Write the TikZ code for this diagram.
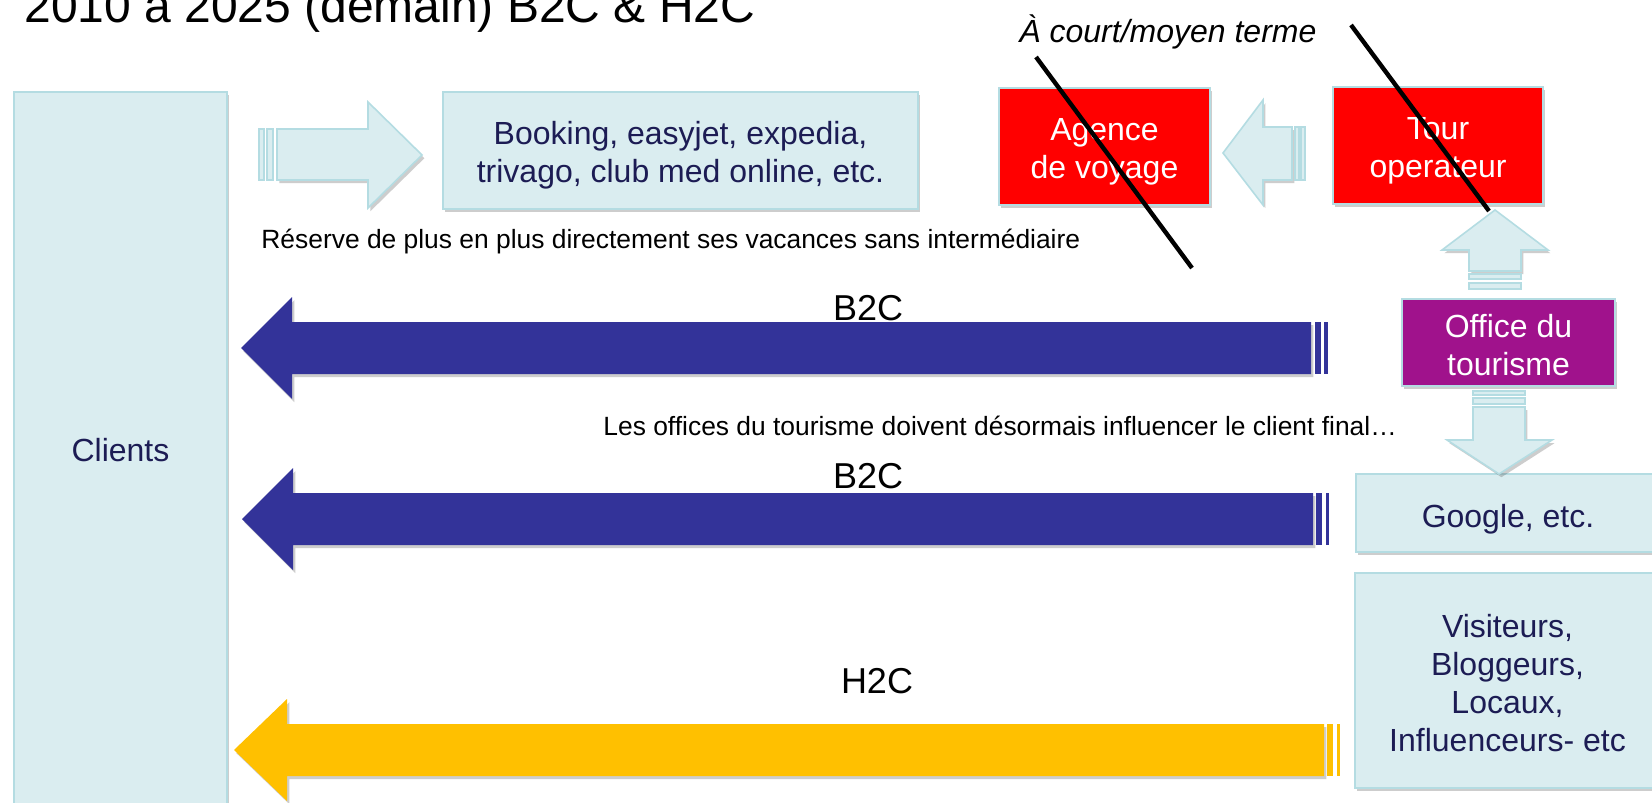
\documentclass[tikz,border=0pt]{standalone}
\usepackage{fontspec}
\setmainfont{Liberation Sans}
\usetikzlibrary{shadows}
\definecolor{lightfill}{RGB}{218,237,240}
\definecolor{lightedge}{RGB}{180,220,226}
\definecolor{navytext}{RGB}{28,28,84}
\definecolor{arrowblue}{RGB}{51,51,153}
\definecolor{arrowgold}{RGB}{255,192,0}
\definecolor{officepurple}{RGB}{160,18,140}
\definecolor{redbox}{RGB}{255,0,0}
\begin{document}
\begin{tikzpicture}[x=0.5pt,y=-0.5pt,
  softshadow/.style={drop shadow={shadow xshift=1.2pt,shadow yshift=-1.6pt,opacity=0.28,fill=black!70}},
  boxbase/.style={rectangle, inner sep=0pt, line width=1pt, draw=lightedge, softshadow},
  lightbox/.style={boxbase, fill=lightfill},
  rednode/.style={boxbase, fill=redbox},
  purplenode/.style={boxbase, fill=officepurple},
  boxtext/.style={font=\fontsize{16}{19}\selectfont, align=center, inner sep=0pt},
  darktext/.style={boxtext, text=navytext},
  whitetext/.style={boxtext, text=white},
  lightarrow/.style={fill=lightfill, draw=lightedge, line width=0.8pt, softshadow},
  lightstripe/.style={fill=lightfill, draw=lightedge, line width=0.6pt},
  bluearrow/.style={fill=arrowblue, softshadow},
  goldarrow/.style={fill=arrowgold, softshadow},
  strike/.style={draw=black, line width=2.2pt},
  smalltext/.style={font=\fontsize{13.2}{15}\selectfont, anchor=base west, inner sep=0pt},
  flowlabel/.style={font=\fontsize{18}{21}\selectfont, anchor=base, inner sep=0pt}
]
\fill[white] (0,0) rectangle (1652,802);
\useasboundingbox (0,0) rectangle (1652,802);

% title
\node[font=\fontsize{24}{28}\selectfont, anchor=base west, inner sep=0pt] (title) at (24,23) {2010 à 2025 (demain) B2C \& H2C};
\node[font=\fontsize{16}{19}\selectfont\itshape, anchor=base west, inner sep=0pt] (terme) at (1019,43) {À court/moyen terme};

% boxes
\node[lightbox, minimum width=106.5pt, minimum height=360pt] (clients) at (120.5,452) {};
\node[lightbox, minimum width=237.5pt, minimum height=58.5pt] (booking) at (680.5,150.5) {};
\node[rednode, minimum width=105.5pt, minimum height=58.5pt] (agence) at (1104.5,146.5) {};
\node[rednode, minimum width=105pt, minimum height=58.5pt] (tour) at (1438,145.5) {};
\node[purplenode, minimum width=106.5pt, minimum height=43.5pt] (office) at (1508.5,342.5) {};
\node[lightbox, minimum width=152pt, minimum height=39pt] (google) at (1508,513) {};
\node[lightbox, minimum width=152.5pt, minimum height=107.5pt] (visiteurs) at (1507.5,680.5) {};

% box texts
\node[darktext] (clientstext) at ([yshift=1pt]clients.center) {Clients};
\node[darktext] (bookingtext) at ([yshift=-2.6pt]booking.center) {Booking, easyjet, expedia,\\trivago, club med online, etc.};
\node[whitetext] (agencetext) at ([yshift=-2.6pt]agence.center) {Agence\\de voyage};
\node[whitetext] (tourtext) at ([yshift=-2.6pt]tour.center) {Tour\\operateur};
\node[whitetext] (officetext) at ([yshift=-1.5pt]office.center) {Office du\\tourisme};
\node[darktext] (googletext) at ([yshift=-3pt]google.center) {Google, etc.};
\node[darktext] (visiteurstext) at ([yshift=-1.3pt]visiteurs.center) {Visiteurs,\\Bloggeurs,\\Locaux,\\Influenceurs- etc};

% light block arrows
\path[lightarrow] (277,129) -- (368,129) -- (368,102) -- (422,155) -- (368,208) -- (368,180) -- (277,180) -- cycle;
\path[lightstripe] (259,129) rectangle (264,180);
\path[lightstripe] (267,129) rectangle (273,180);

\path[lightarrow] (1223,153) -- (1263,100) -- (1263,127) -- (1292,127) -- (1292,180) -- (1263,180) -- (1263,205) -- cycle;
\path[lightstripe] (1295,127) rectangle (1299,180);
\path[lightstripe] (1301,127) rectangle (1305,180);

\path[lightarrow] (1495,210) -- (1548,250) -- (1521,250) -- (1521,271) -- (1469,271) -- (1469,250) -- (1442,250) -- cycle;
\path[lightstripe] (1469,274) rectangle (1521,279);
\path[lightstripe] (1469,283) rectangle (1521,289);

\path[lightstripe] (1473,391) rectangle (1525,395);
\path[lightstripe] (1473,398) rectangle (1525,404);
\path[lightarrow] (1473,407) -- (1525,407) -- (1525,440) -- (1552,440) -- (1499,474) -- (1447,440) -- (1473,440) -- cycle;

% blue and gold block arrows
\path[bluearrow] (241,348) -- (292,297) -- (292,322) -- (1311,322) -- (1311,374) -- (292,374) -- (292,399) -- cycle;
\fill[arrowblue] (1315,322) rectangle (1321,374);
\fill[arrowblue] (1324,322) rectangle (1328,374);

\path[bluearrow] (242,519) -- (293,468) -- (293,493) -- (1313,493) -- (1313,545) -- (293,545) -- (293,570) -- cycle;
\fill[arrowblue] (1316,493) rectangle (1322,545);
\fill[arrowblue] (1326,493) rectangle (1329,545);

\path[goldarrow] (234,750) -- (287,699) -- (287,724) -- (1324,724) -- (1324,776) -- (287,776) -- (287,801) -- cycle;
\fill[arrowgold] (1327,724) rectangle (1333,776);
\fill[arrowgold] (1337,724) rectangle (1340,776);

% labels
\node[smalltext] (reserve) at (261,249) {Réserve de plus en plus directement ses vacances sans intermédiaire};
\node[smalltext] (offices) at (603,435) {Les offices du tourisme doivent désormais influencer le client final…};
\node[flowlabel] (b2ca) at (868,320) {B2C};
\node[flowlabel] (b2cb) at (868,488) {B2C};
\node[flowlabel] (h2c) at (877,693) {H2C};

% strike-through lines
\draw[strike] (1036,57) -- (1192,268);
\draw[strike] (1351,25) -- (1489,211);
\end{tikzpicture}
\end{document}
